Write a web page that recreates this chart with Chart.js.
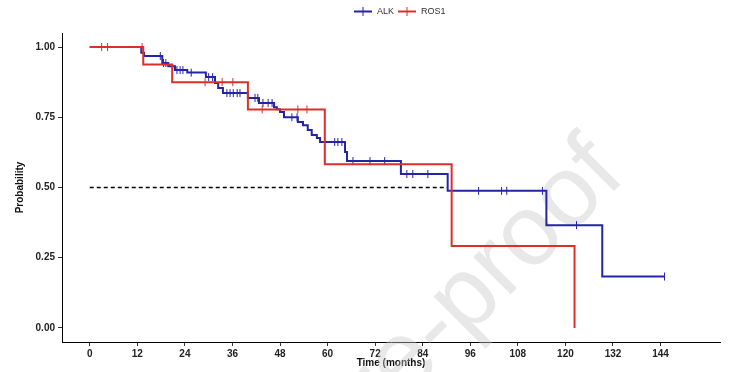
<!DOCTYPE html>
<html>
<head>
<meta charset="utf-8">
<script src="https://cdn.jsdelivr.net/npm/chart.js@4/dist/chart.umd.min.js"></script>
<style>
html,body{margin:0;padding:0;background:#fff;}
#wrap{width:754px;height:372px;position:relative;}
</style>
</head>
<body>
<div id="wrap"><canvas id="c" width="754" height="372"></canvas></div>
<script>
// ---- data ----
const seriesNames = ["ALK", "ROS1"];
const alkTimes = [0, 13.0, 13.7, 18.3, 19.8, 21.5, 24.6, 29.3, 31.6, 32.4, 33.6, 39.9, 42.7, 46.5, 47.2, 48.0, 49.0, 52.5, 53.8, 55.0, 56.0, 57.3, 58.1, 64.4, 64.9, 78.5, 90.3, 115.2, 129.3, 145.0];
const alkSurv  = [1, 0.980, 0.968, 0.943, 0.932, 0.918, 0.909, 0.893, 0.872, 0.854, 0.836, 0.819, 0.801, 0.786, 0.779, 0.769, 0.750, 0.733, 0.722, 0.705, 0.687, 0.676, 0.662, 0.626, 0.594, 0.548, 0.488, 0.366, 0.183, 0.183];
const alkCensor = [17.8, 18.6, 19.2, 22.0, 22.8, 23.5, 25.6, 30.0, 31.0, 34.6, 35.4, 36.2, 37.2, 37.9, 41.7, 42.4, 43.7, 45.0, 46.0, 51.0, 52.3, 61.8, 62.6, 63.6, 66.4, 70.7, 74.4, 80.0, 81.5, 85.3, 98.1, 103.9, 105.2, 114.2, 122.8, 145.0];
const rosTimes = [0, 13.5, 20.8, 39.9, 59.3, 91.3, 122.3];
const rosSurv  = [1, 0.9375, 0.875, 0.778, 0.583, 0.292, 0];
const rosCensor = [3.0, 4.5, 13.2, 29.1, 33.4, 36.1, 43.5, 52.5, 54.8];
const medianLine = {from: 0, to: 90.3, level: 0.5};
const xTicks = [0, 12, 24, 36, 48, 60, 72, 84, 96, 108, 120, 132, 144];
const yTicks = [0, 0.25, 0.5, 0.75, 1.0];

const BLUE = '#2424a6', RED = '#dc2e2a';

function survAt(times, surv, t) {
  let s = surv[0];
  for (let i = 0; i < times.length; i++) { if (times[i] <= t) s = surv[i]; }
  return s;
}
const toPts = (t, s) => t.map((v, i) => ({x: v, y: s[i]}));

const FONT = '"Liberation Sans", Arial, sans-serif';

const legendPlugin = {
  id: 'kmLegend',
  afterDraw(chart) {
    const ctx = chart.ctx;
    const items = [{name: seriesNames[0], c: BLUE, x: 354}, {name: seriesNames[1], c: RED, x: 398}];
    ctx.save();
    items.forEach(it => {
      ctx.strokeStyle = it.c; ctx.lineWidth = 2;
      ctx.beginPath(); ctx.moveTo(it.x, 11.5); ctx.lineTo(it.x + 18, 11.5); ctx.stroke();
      ctx.lineWidth = 1;
      ctx.beginPath(); ctx.moveTo(it.x + 9, 7); ctx.lineTo(it.x + 9, 16); ctx.stroke();
      ctx.fillStyle = '#333'; ctx.font = '9px ' + FONT; ctx.textBaseline = 'middle';
      ctx.fillText(it.name, it.x + 23, 12);
    });
    ctx.restore();
  }
};
const watermarkPlugin = {
  id: 'watermark',
  beforeDatasetsDraw(chart) {
    const ctx = chart.ctx;
    ctx.save();
    ctx.translate(608, 158);
    ctx.rotate(-45 * Math.PI / 180);
    ctx.fillStyle = 'rgba(200,200,200,0.42)';
    ctx.font = '100px ' + FONT;
    ctx.textAlign = 'right'; ctx.textBaseline = 'middle';
    ctx.fillText('Journal Pre-proof', 0, 0);
    ctx.restore();
  }
};

new Chart(document.getElementById('c'), {
  type: 'line',
  data: {
    datasets: [
      {label: seriesNames[1], data: toPts(rosTimes, rosSurv), borderColor: RED, borderWidth: 2, stepped: true, pointRadius: 0, fill: false, order: 1},
      {label: seriesNames[1] + ' censored', data: rosCensor.map(t => ({x: t, y: survAt(rosTimes, rosSurv, t)})), showLine: false, pointStyle: 'line', rotation: 90, pointRadius: 4, borderColor: RED, borderWidth: 1, order: 1},
      {label: seriesNames[0], data: toPts(alkTimes, alkSurv), borderColor: BLUE, borderWidth: 2, stepped: true, pointRadius: 0, fill: false, order: 2},
      {label: seriesNames[0] + ' censored', data: alkCensor.map(t => ({x: t, y: survAt(alkTimes, alkSurv, t)})), showLine: false, pointStyle: 'line', rotation: 90, pointRadius: 4, borderColor: BLUE, borderWidth: 1, order: 2},
      {label: 'median', data: [{x: medianLine.from, y: medianLine.level}, {x: medianLine.to, y: medianLine.level}], borderColor: '#000', borderWidth: 1.3, borderDash: [4, 3], pointRadius: 0, order: 3}
    ]
  },
  options: {
    responsive: false,
    animation: false,
    layout: {padding: {left: 0, right: 34, top: 33, bottom: 0}},
    plugins: {legend: {display: false}, tooltip: {enabled: false}},
    scales: {
      x: {
        type: 'linear', min: -7, max: 159,
        afterBuildTicks: s => { s.ticks = xTicks.map(v => ({value: v})); },
        afterFit: s => { s.height = 30; },
        ticks: {color: '#222', font: {family: FONT, size: 10, weight: 'bold'}, padding: 2, maxRotation: 0, callback: v => String(v)},
        grid: {drawOnChartArea: false, drawTicks: true, tickLength: 4, color: '#333'},
        border: {display: true, color: '#000', width: 1},
        title: {display: true, text: 'Time (months)', color: '#111', font: {family: FONT, size: 10, weight: 'bold'}, padding: {top: 0, bottom: 3}}
      },
      y: {
        type: 'linear', min: -0.05, max: 1.05,
        afterBuildTicks: s => { s.ticks = yTicks.map(v => ({value: v})); },
        afterFit: s => { s.width = 62; },
        ticks: {color: '#222', font: {family: FONT, size: 10, weight: 'bold'}, padding: 3, callback: v => Number(v).toFixed(2)},
        grid: {drawOnChartArea: false, drawTicks: true, tickLength: 4, color: '#333'},
        border: {display: true, color: '#000', width: 1},
        title: {display: true, text: 'Probability', color: '#111', font: {family: FONT, size: 10, weight: 'bold'}, padding: {top: 14, bottom: 0}}
      }
    }
  },
  plugins: [legendPlugin, watermarkPlugin]
});
</script>
</body>
</html>
